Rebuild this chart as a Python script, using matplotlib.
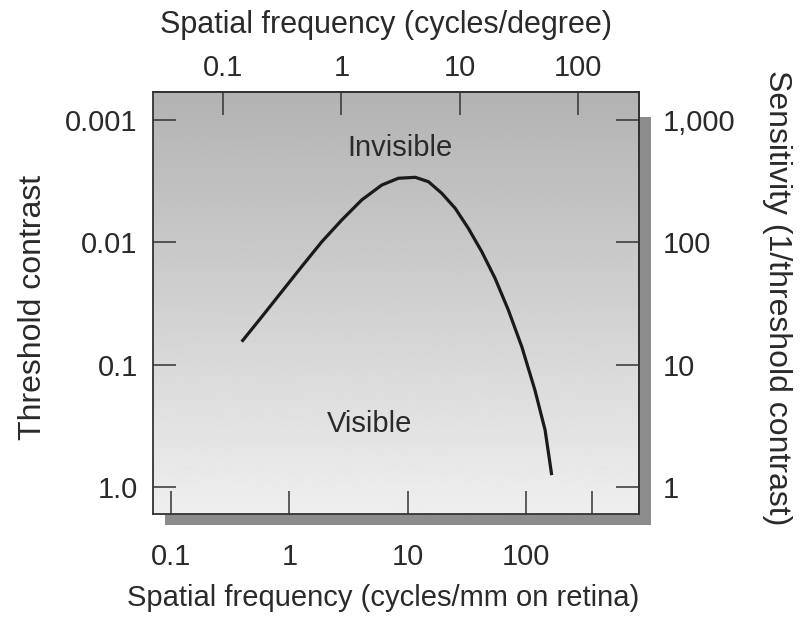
# Contrast sensitivity function (threshold contrast vs spatial frequency)
import numpy as np
import matplotlib.pyplot as plt
from matplotlib.patches import Rectangle

plt.rcParams["font.family"] = ["Liberation Sans", "DejaVu Sans"]

# Curve: cycles/mm on retina vs sensitivity (1/threshold)
freqMm = [0.396, 0.585, 0.863, 1.27, 1.88, 2.77, 4.09, 6.04, 8.34, 11.6, 15.0,
          19.4, 25.2, 32.6, 42.3, 54.8, 71.0, 92.2, 119, 145, 165]
sensitivity = [15.4, 24.6, 39.5, 63.2, 101, 152, 222, 294, 334, 340, 313,
               252, 190, 130, 83.8, 50.8, 27.9, 14.0, 6.19, 2.92, 1.25]

# Axis ticks
bottomTicks = [0.1, 1, 10, 100, 362]
bottomLabels = ["0.1", "1", "10", "100", ""]
topTicks = [0.1, 1, 10, 100]
topLabels = ["0.1", "1", "10", "100"]
sensTicks = [1000, 100, 10, 1]
thresholdLabels = ["0.001", "0.01", "0.1", "1.0"]
sensLabels = ["1,000", "100", "10", "1"]
mmPerDegree = 2.76  # factor between the two frequency scales

FS = 21
TXT = "#2a2a2a"
W, H = 802, 617
fig = plt.figure(figsize=(W / 100, H / 100), dpi=100)
x0, x1, y0, y1 = 153, 639, 92, 514
ax = fig.add_axes([x0 / W, 1 - y1 / H, (x1 - x0) / W, (y1 - y0) / H])

# Drop shadow behind the plot box
fig.patches.append(Rectangle(((x0 + 12) / W, 1 - (y1 + 11) / H), (x1 - x0) / W, (y1 - y0 - 14) / H,
                             transform=fig.transFigure, facecolor="#8c8c8c", edgecolor="none", zorder=-5))

ax.set_xscale("log")
ax.set_yscale("log")
ax.set_xlim(10 ** -1.152, 10 ** 2.955)
ax.set_ylim(10 ** -0.221, 10 ** 3.229)

# Grey gradient background, darker at top
grad = np.linspace(0.70, 0.935, 256).reshape(-1, 1)
ax.imshow(grad, cmap="gray", vmin=0, vmax=1, extent=[0, 1, 0, 1], transform=ax.transAxes,
          aspect="auto", origin="upper", zorder=0)

ax.plot(freqMm, sensitivity, color="#1a1a1a", lw=2.3, solid_capstyle="butt",
        solid_joinstyle="round", zorder=3)

ax.text(8.6, 590, "Invisible", fontsize=FS, ha="center", va="center", color=TXT)
ax.text(4.8, 3.3, "Visible", fontsize=FS, ha="center", va="center", color=TXT)

tickStyle = dict(direction="in", length=16.5, width=1.1, color="#333333", labelsize=FS, labelcolor=TXT)
ax.set_xticks(bottomTicks)
ax.set_xticklabels(bottomLabels)
ax.set_yticks(sensTicks)
ax.set_yticklabels(thresholdLabels)
ax.minorticks_off()
ax.tick_params(axis="x", pad=21, **tickStyle)
ax.tick_params(axis="y", pad=11, **tickStyle)
for s in ax.spines.values():
    s.set_color("#333333")
    s.set_linewidth(1.3)
    s.set_zorder(4)

top = ax.secondary_xaxis("top", functions=(lambda x: x / mmPerDegree, lambda x: x * mmPerDegree))
top.set_xticks(topTicks)
top.set_xticklabels(topLabels)
top.minorticks_off()
top.tick_params(pad=7, **tickStyle)
top.spines["top"].set_linewidth(1.3)
top.spines["top"].set_color("#333333")

right = ax.secondary_yaxis("right")
right.set_yticks(sensTicks)
right.set_yticklabels(sensLabels)
right.minorticks_off()
right.tick_params(pad=17, **tickStyle)
right.spines["right"].set_linewidth(1.3)
right.spines["right"].set_color("#333333")

labelStyle = dict(color=TXT, ha="center", va="center")
fig.text(386 / W, 1 - 25 / H, "Spatial frequency (cycles/degree)", fontsize=22, **labelStyle)
fig.text(383 / W, 1 - 598 / H, "Spatial frequency (cycles/mm on retina)", fontsize=FS, **labelStyle)
fig.text(33 / W, 1 - 307 / H, "Threshold contrast", rotation=90, fontsize=23, **labelStyle)
fig.text(777 / W, 1 - 298 / H, "Sensitivity (1/threshold contrast)", rotation=270, fontsize=23, **labelStyle)

fig.savefig("out.png", dpi=100, facecolor="white")
